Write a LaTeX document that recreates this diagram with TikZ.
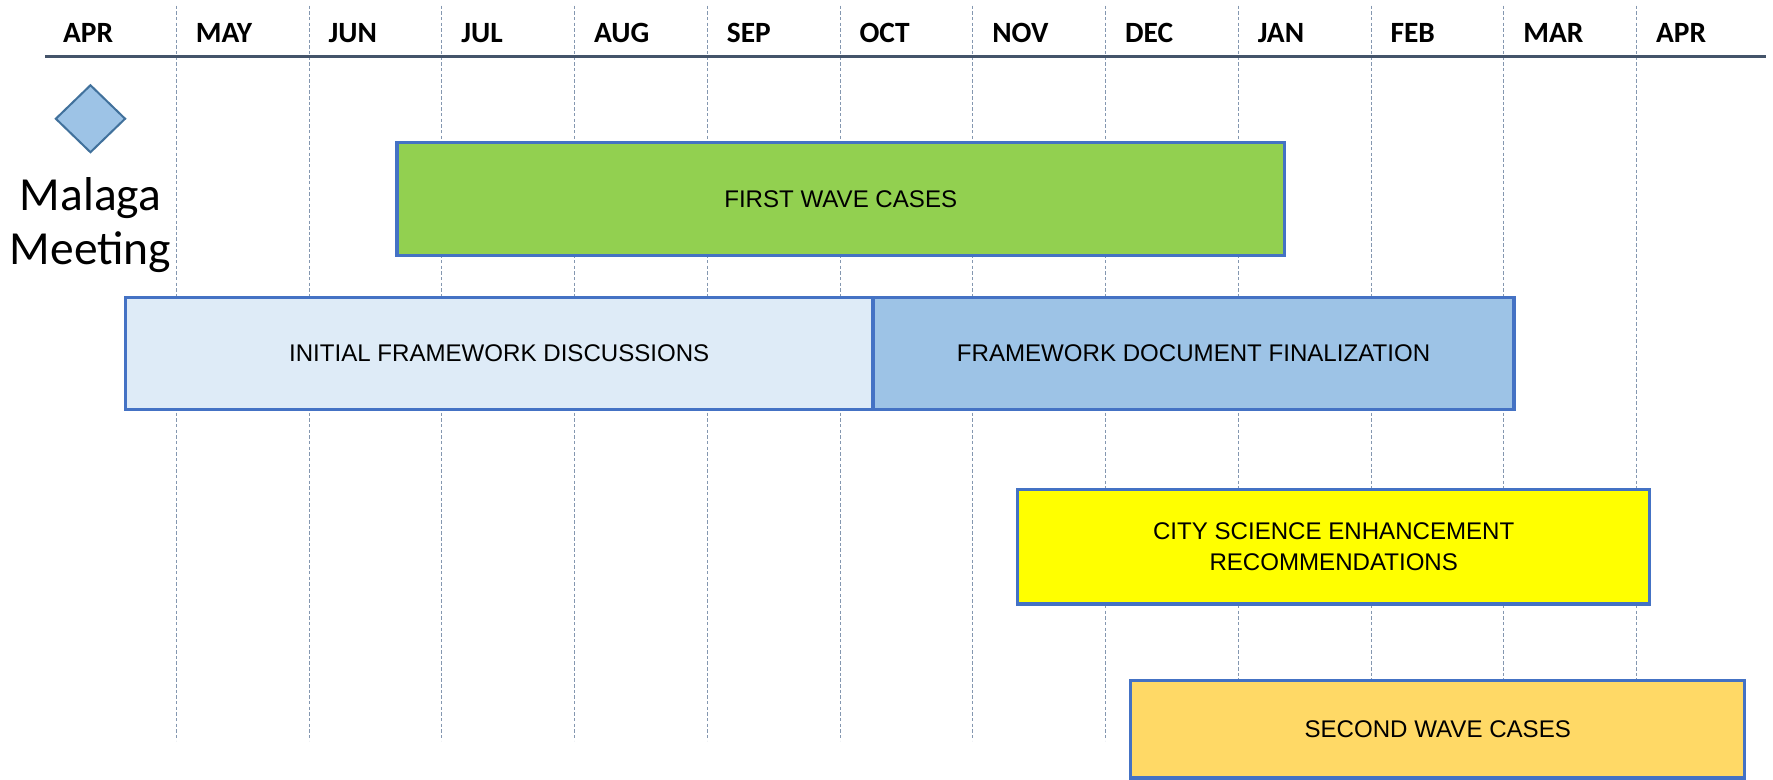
\documentclass[tikz,border=0pt]{standalone}
\usepackage{fontspec}
\setmainfont{Liberation Sans}
\newfontfamily\calib{Carlito}
\usetikzlibrary{shapes.geometric}
\definecolor{barblue}{HTML}{4472C4}
\definecolor{gridcol}{HTML}{8497B0}
\definecolor{headline}{HTML}{44546A}
\definecolor{greenbar}{HTML}{92D050}
\definecolor{lightblue}{HTML}{DEEBF7}
\definecolor{midblue}{HTML}{9DC3E6}
\definecolor{diamedge}{HTML}{41719C}
\definecolor{gold}{HTML}{FFD966}
\definecolor{brightyellow}{HTML}{FFFF00}
\tikzset{
  bar/.style={draw=barblue, line width=3pt, inner sep=0pt, align=center,
    font=\fontsize{21.3}{27}\selectfont, text=black},
  month/.style={anchor=west, font=\calib\bfseries\fontsize{26}{30}\selectfont, inner sep=0pt},
  gridline/.style={draw=gridcol, line width=0.9pt, dash pattern=on 3pt off 2pt},
}
\begin{document}
\begin{tikzpicture}[x=1pt,y=-1pt]
\useasboundingbox (0,0) rectangle (1568,689);
% grid lines
\foreach \k in {0,...,11}{
  \coordinate (gt\k) at ({156+117.4*\k},5);
  \coordinate (gb\k) at ({156+117.4*\k},655);
  \draw[gridline] (gt\k) -- (gb\k);
}
% header line
\coordinate (hl) at (40,50);
\coordinate (hr) at (1562,50);
\draw[headline, line width=2.6pt] (hl) -- (hr);
% months
\foreach \m [count=\i from 0] in {APR,MAY,JUN,JUL,AUG,SEP,OCT,NOV,DEC,JAN,FEB,MAR,APR}{
  \node[month] (m\i) at ({38.6+117.4*\i+17},29) {\m};
}
% milestone
\node[diamond, draw=diamedge, fill=midblue, line width=1.8pt, minimum width=62pt, minimum height=60pt, inner sep=0pt] (malaga) at (80,105) {};
\node[font=\calib\fontsize{42}{48.5}\selectfont, align=center, inner sep=0pt] (malagatxt) at (80,199) {Malaga\\Meeting};
% bars
\node[bar, fill=greenbar, minimum width=785pt, minimum height=100pt] (first) at (743.5,176) {FIRST WAVE CASES};
\node[bar, fill=lightblue, minimum width=661pt, minimum height=99pt] (initial) at (441.5,312.5) {INITIAL FRAMEWORK DISCUSSIONS};
\node[bar, fill=midblue, minimum width=567pt, minimum height=99pt] (final) at (1055.5,312.5) {FRAMEWORK DOCUMENT FINALIZATION};
\node[bar, fill=brightyellow, minimum width=559pt, minimum height=101pt] (city) at (1179.5,483.5) {CITY SCIENCE ENHANCEMENT\\RECOMMENDATIONS};
\node[bar, fill=gold, minimum width=543pt, minimum height=86pt] (second) at (1271.5,645) {SECOND WAVE CASES};
\end{tikzpicture}
\end{document}
